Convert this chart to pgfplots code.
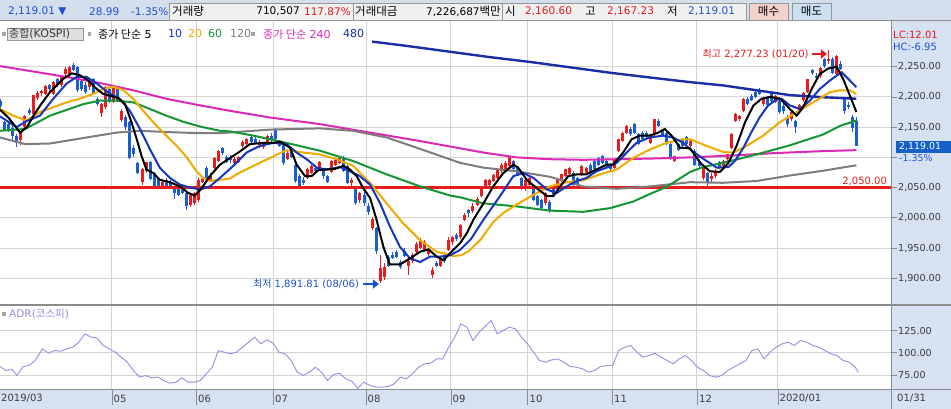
\documentclass[border=0pt]{standalone}
\usepackage{pgfplots}
\pgfplotsset{compat=1.18}
\usepackage{pgfplotstable}
\usetikzlibrary{arrows.meta}
\usepackage{fontspec}
\setmainfont{DejaVu Sans}
\newfontfamily\kr{Noto Sans CJK KR}
\definecolor{tbbg}{RGB}{212,223,238}
\definecolor{panelbg}{RGB}{214,226,241}
\definecolor{boxbg}{RGB}{240,240,240}
\definecolor{boxbd}{RGB}{150,150,150}
\definecolor{txtblue}{RGB}{30,80,210}
\definecolor{txtred}{RGB}{230,25,25}
\definecolor{candred}{RGB}{232,28,28}
\definecolor{candblue}{RGB}{25,95,210}
\definecolor{ma10}{RGB}{20,55,190}
\definecolor{ma20}{RGB}{240,170,0}
\definecolor{ma60}{RGB}{20,150,50}
\definecolor{ma120}{RGB}{125,125,125}
\definecolor{ma240}{RGB}{220,40,180}
\definecolor{ma480}{RGB}{25,45,165}
\definecolor{gridc}{RGB}{212,212,212}
\definecolor{adrc}{RGB}{150,140,230}
\definecolor{axtxt}{RGB}{60,60,60}
\definecolor{buybg}{RGB}{244,210,204}
\definecolor{sellbg}{RGB}{204,224,244}
\definecolor{curblue}{RGB}{21,96,200}
\definecolor{sepc}{RGB}{140,140,140}

% up (red) candles: i O H L C
\pgfplotstableread{
i O H L C
-1 2128 2142 2121 2141
0 2150 2170 2148 2169
2 2172 2204 2170 2203
3 2198 2210 2195 2207
4 2206 2212 2202 2210
5 2205 2220 2203 2218
7 2205 2226 2203 2224
9 2219 2236 2216 2234
10 2238 2249 2235 2247
11 2236 2251 2233 2249
16 2216 2226 2212 2224
19 2174 2190 2166 2188
20 2183 2218 2180 2216
22 2192 2216 2190 2214
24 2162 2180 2158 2177
29 2060 2083 2055 2080
30 2077 2093 2075 2092
34 2052 2062 2048 2060
41 2022 2040 2018 2038
42 2025 2043 2022 2041
43 2030 2066 2027 2063
44 2060 2066 2058 2065
46 2063 2075 2060 2070
47 2083 2101 2080 2099
48 2094 2113 2092 2111
52 2090 2100 2086 2097
53 2092 2102 2090 2100
54 2119 2128 2116 2125
55 2122 2132 2120 2130
58 2120 2128 2115 2126
59 2118 2126 2114 2122
60 2125 2137 2122 2135
65 2098 2110 2095 2108
70 2066 2082 2064 2080
71 2075 2088 2073 2085
73 2081 2094 2078 2092
76 2076 2095 2074 2094
77 2088 2098 2085 2096
78 2091 2101 2089 2099
81 2057 2066 2052 2063
83 2030 2043 2025 2041
86 1983 2001 1980 1998
88 1895 1938 1891.81 1917
89 1903 1926 1898 1918
95 1920 1930 1906 1928
96 1928 1942 1925 1939
97 1944 1960 1940 1957
98 1950 1966 1948 1964
99 1947 1963 1943 1960
100 1940 1950 1937 1948
101 1905 1918 1900 1914
103 1921 1935 1918 1933
105 1947 1968 1945 1963
106 1960 1970 1955 1968
108 1968 1990 1965 1988
109 1997 2008 1995 2005
111 2011 2025 2008 2020
112 2022 2034 2020 2032
113 2036 2050 2034 2047
114 2052 2064 2050 2062
115 2055 2064 2052 2062
116 2061 2073 2059 2071
117 2066 2082 2064 2080
118 2077 2090 2075 2088
119 2080 2094 2078 2091
120 2086 2102 2084 2100
124 2047 2065 2045 2063
125 2055 2067 2052 2066
129 2024 2042 2022 2041
132 2052 2064 2050 2063
133 2061 2073 2059 2072
134 2069 2081 2067 2080
135 2072 2084 2070 2083
138 2072 2087 2070 2086
139 2075 2084 2073 2083
146 2083 2098 2081 2097
147 2111 2131 2109 2130
148 2127 2142 2125 2141
149 2141 2153 2139 2152
155 2124 2139 2122 2138
156 2138 2164 2136 2163
161 2094 2103 2092 2102
165 2119 2128 2117 2127
168 2066 2085 2062 2083
170 2064 2075 2058 2070
171 2070 2080 2066 2077
173 2086 2096 2084 2094
174 2097 2106 2094 2105
175 2116 2140 2114 2138
176 2161 2174 2158 2172
177 2163 2170 2160 2168
178 2177 2198 2175 2196
183 2188 2200 2185 2199
186 2192 2203 2190 2202
190 2163 2176 2160 2175
192 2176 2188 2175 2186
193 2195 2208 2192 2206
194 2208 2230 2206 2229
197 2235 2249 2232 2248
199 2259 2277.23 2255 2263
201 2238 2270 2236 2267
}\upT

% down (blue) candles: i O H L C
\pgfplotstableread{
i O H L C
-6 2194 2196 2182 2185
-5 2158 2160 2143 2145
-4 2156 2158 2142 2146
-3 2149 2154 2128 2135
-2 2135 2138 2118 2124
1 2179 2181 2170 2174
6 2219 2222 2210 2213
8 2229 2231 2217 2219
12 2252 2256 2243 2245
13 2249 2251 2208 2211
14 2227 2230 2210 2213
15 2219 2224 2205 2208
17 2229 2232 2203 2205
18 2197 2200 2185 2188
21 2213 2216 2190 2192
23 2213 2216 2192 2195
25 2166 2170 2146 2150
26 2158 2160 2097 2099
27 2116 2120 2100 2105
28 2091 2093 2072 2074
31 2092 2094 2063 2065
32 2074 2076 2050 2052
33 2066 2068 2050 2052
35 2063 2066 2050 2052
36 2060 2062 2048 2050
37 2049 2052 2031 2041
38 2047 2050 2036 2038
39 2049 2052 2040 2041
40 2041 2043 2013 2019
45 2083 2086 2062 2064
49 2116 2118 2104 2108
50 2100 2104 2090 2092
51 2100 2104 2090 2095
56 2133 2135 2123 2126
57 2130 2133 2122 2124
61 2136 2140 2126 2131
62 2145 2148 2128 2130
63 2124 2128 2118 2119
64 2122 2124 2088 2091
66 2113 2116 2099 2100
67 2088 2090 2058 2061
68 2069 2072 2047 2049
69 2063 2068 2055 2058
72 2083 2088 2075 2077
74 2077 2080 2065 2069
75 2069 2071 2058 2060
79 2097 2103 2076 2078
80 2086 2088 2056 2058
82 2047 2050 2022 2024
84 2038 2042 2020 2024
85 2019 2025 2005 2010
87 1983 1985 1941 1945
90 1935 1938 1918 1921
91 1939 1943 1932 1934
92 1944 1947 1935 1936
93 1927 1930 1915 1919
94 1946 1950 1935 1937
102 1926 1929 1918 1920
104 1939 1943 1925 1928
107 1972 1975 1962 1965
110 2013 2015 2002 2008
121 2094 2096 2078 2080
122 2083 2086 2070 2072
123 2066 2068 2046 2049
126 2047 2049 2028 2030
127 2036 2038 2020 2022
128 2030 2032 2014 2016
130 2027 2029 2008 2013
131 2047 2049 2036 2038
136 2074 2077 2053 2055
137 2066 2068 2053 2055
140 2088 2090 2073 2075
141 2094 2096 2078 2080
142 2099 2101 2086 2088
143 2102 2104 2089 2091
144 2094 2096 2084 2086
145 2088 2090 2078 2080
150 2147 2150 2136 2138
151 2155 2157 2139 2141
152 2138 2140 2120 2122
153 2141 2143 2128 2130
154 2141 2143 2131 2133
157 2161 2164 2150 2152
158 2144 2147 2134 2136
159 2141 2143 2120 2122
160 2122 2124 2095 2097
162 2122 2124 2111 2113
163 2130 2132 2117 2119
164 2133 2135 2120 2122
166 2110 2114 2086 2088
167 2094 2097 2082 2086
169 2074 2076 2052 2060
172 2092 2094 2080 2083
179 2197 2200 2186 2188
180 2202 2205 2193 2195
181 2208 2212 2198 2200
182 2211 2214 2204 2205
184 2199 2202 2184 2186
185 2208 2210 2193 2194
187 2194 2200 2172 2175
188 2185 2190 2172 2176
189 2165 2170 2150 2155
191 2160 2162 2140 2151
195 2244 2246 2236 2239
196 2235 2240 2226 2231
198 2263 2265 2248 2251
200 2263 2266 2238 2240
202 2255 2260 2244 2246
203 2197 2199 2172 2177
204 2187 2192 2180 2183
205 2166 2170 2142 2148
206 2160.60 2167.23 2119.01 2119.01
}\downT

\newcommand\tb{\fontsize{10.5}{12}\selectfont}
\newcommand\tk{\fontsize{11.5}{12}\selectfont\kr}

\pgfplotsset{
  candle/.style 2 args={draw=none, mark=none, forget plot, error bars/.cd, y dir=both, y explicit, error mark=none,
    error bar style={solid, line width=#1, draw=#2}},
}

\begin{document}
\begin{tikzpicture}[x=1pt,y=1pt]
\fill[white] (0,0) rectangle (951,409);
\fill[tbbg] (0,388) rectangle (951,409);
\fill[panelbg] (891,0) rectangle (951,388);
\fill[panelbg] (0,0) rectangle (891,19);

% ---------------- price panel ----------------
\begin{axis}[
  at={(0pt,104pt)}, anchor=south west, scale only axis,
  width=891pt, height=284pt,
  xmin=-6.19, xmax=214.57, ymin=1855.9, ymax=2325.6,
  axis line style={draw=none},
  xtick={21.5,42.5,61.5,84.5,105.5,124.5,145.5,166.5,186.5},
  xticklabel=\empty, xtick style={draw=none},
  ytick={1900,1950,2000,2050,2100,2150,2200,2250},
  yticklabels={{1,900.00},{1,950.00},{2,000.00},{2,050.00},{},{2,150.00},{2,200.00},{2,250.00}},
  ytick pos=right, yticklabel pos=right,
  tick align=outside, major tick length=6pt,
  ytick style={draw=sepc, line width=0.8pt},
  yticklabel style={font=\fontsize{9.6}{10}\selectfont, text=axtxt, inner sep=1pt, anchor=west},
  grid=major, major grid style={gridc, line width=1pt},
]
% wicks
\addplot[candle={1pt}{candred}]
  table[x=i, y=C, y error plus expr=\thisrow{H}-\thisrow{C}, y error minus expr=\thisrow{C}-\thisrow{L}] {\upT};
\addplot[candle={1pt}{candblue}]
  table[x=i, y=C, y error plus expr=\thisrow{H}-\thisrow{C}, y error minus expr=\thisrow{C}-\thisrow{L}] {\downT};
% bodies
\addplot[candle={3pt}{candred}]
  table[x=i, y=C, y error plus expr=0, y error minus expr=\thisrow{C}-\thisrow{O}] {\upT};
\addplot[candle={3pt}{candblue}]
  table[x=i, y=C, y error plus expr=\thisrow{O}-\thisrow{C}, y error minus expr=0] {\downT};

% support line
\addplot[candred, line width=3.5pt, forget plot] coordinates {(-6.19,2050)(214.57,2050)};

% MA480
\addplot[ma480, line width=2.4pt] coordinates {(86,2291.5)(95,2284)(105,2275)(115,2266)(125,2258)(135,2249)(145,2240)(155,2232)(164.8,2224.5)(173,2219)(181.3,2211)(189.5,2203)(197.8,2199.5)(206,2197)};
% MA240
\addplot[ma240, line width=2pt] coordinates {(-6.2,2251)(2.1,2242)(10.3,2233)(18.6,2223)(26.8,2211)(35,2197)(43.4,2186)(50.8,2177)(60.7,2166)(73.1,2155)(85.5,2141)(97.9,2127)(105.3,2118)(113.6,2108)(121.8,2100)(130,2097)(138.3,2096)(146.6,2097)(154.8,2098)(164.8,2100)(175,2103)(185.4,2107)(196,2110)(206,2112)};
% MA120
\addplot[ma120, line width=2pt] coordinates {(-6.2,2133)(0,2122)(6.2,2123)(14.4,2132)(22.7,2141)(28.5,2144)(35,2142)(43.4,2140)(48.3,2140)(60.7,2146)(73.1,2148)(81.3,2144)(89.6,2133)(97.9,2114)(107.8,2091)(113.6,2083)(121.8,2077)(130,2068)(138.3,2052)(146.6,2048)(154.8,2052)(164.8,2059)(173,2058)(181.3,2061)(189.5,2070)(197.8,2078)(206,2087)};
% MA60
\addplot[ma60, line width=2pt] coordinates {(-6.2,2144)(0,2147)(6.2,2169)(14.4,2188)(18.6,2194)(22.7,2194)(26.8,2191)(31,2180)(35,2169)(39.2,2159)(43.4,2151)(48.3,2144)(50.8,2143)(56.6,2136)(64.8,2124)(73.1,2111)(81.3,2094)(89.6,2072)(97.9,2052)(105.3,2037)(107.8,2034)(113.6,2024)(121.8,2019)(130,2012)(138.3,2010)(144.9,2016)(150.7,2027)(155,2040)(158.9,2051)(162,2064)(164.8,2076)(168,2084)(173,2091)(181.3,2105)(189.5,2120)(197.8,2138)(201.9,2152)(206,2161)};
% MA20
\addplot[ma20, line width=2pt] coordinates {(-6.2,2180)(-2.9,2169)(0.4,2161)(3.7,2175)(7,2183)(10.3,2191)(13.6,2197)(16.9,2205)(19.4,2213)(21.9,2217)(24.4,2211)(26.8,2197)(29.3,2177)(31.8,2158)(35,2136)(37.6,2119)(40.1,2100)(42.5,2077)(44.2,2066)(45.8,2061)(48.3,2063)(50.8,2065)(52.4,2072)(56.6,2086)(60.7,2099)(64.8,2112)(69,2108)(73.1,2105)(77.2,2097)(81.3,2086)(85.5,2058)(89.6,2024)(93.7,1991)(97.9,1963)(102,1944)(106.1,1937)(108,1938)(110,1945)(113,1965)(116,1993)(118.5,2008)(121.8,2022)(126,2038)(130,2052)(134.2,2059)(138.3,2062)(142.5,2072)(146.6,2080)(150.7,2099)(154.8,2113)(158.9,2124)(163.1,2130)(164.8,2130)(168.9,2119)(173,2109)(175.5,2108)(178.8,2119)(182.9,2136)(187,2158)(191.2,2175)(195.3,2191)(199.5,2208)(201.9,2211)(204.4,2211)(206,2205)};
% MA10
\addplot[ma10, line width=2pt] coordinates {(-6.2,2168)(-2.1,2150)(0.4,2160)(3.7,2169)(7,2197)(10.3,2222)(12.8,2233)(15.3,2233)(17.8,2222)(21.1,2205)(23.5,2197)(26,2177)(28.5,2147)(31,2113)(33.4,2083)(35.9,2066)(38.4,2055)(40.9,2050)(43.4,2047)(45.8,2052)(48.3,2066)(51.6,2086)(54.9,2108)(58.2,2119)(61.5,2124)(64.8,2122)(67.3,2108)(69.8,2097)(72.3,2083)(74.7,2080)(78.1,2084)(80.5,2077)(83,2069)(85.5,2055)(88,2024)(90.4,1986)(92.9,1952)(95.4,1933)(97.9,1927)(100.4,1936)(102.9,1936)(105.3,1938)(107.8,1947)(110.5,1965)(113.6,1997)(117.7,2036)(121,2069)(123.5,2074)(126,2066)(129.3,2047)(131.7,2041)(134.2,2052)(136.7,2061)(139.1,2066)(141.6,2077)(144.1,2083)(146.6,2091)(149.1,2108)(151.5,2124)(154.8,2133)(158.1,2136)(160.6,2133)(163.1,2124)(165,2112)(168,2098)(171.4,2083)(174.3,2084)(176,2095)(178,2116)(180,2142)(182,2166)(184,2185)(186,2195)(187.5,2197)(189.5,2186)(192,2180)(194.5,2194)(196.9,2213)(199.4,2227)(202.3,2241)(204.4,2227)(206,2216)};
% MA5
\addplot[black, line width=2pt] coordinates {(-6.2,2179)(-4,2165)(-1.2,2141)(0.5,2150)(2.1,2169)(4,2188)(6.2,2208)(8,2220)(9.5,2230)(11.6,2239)(13.6,2236)(15.7,2227)(17.8,2213)(19.4,2205)(21.1,2202)(23.1,2198)(24.8,2188)(26.4,2158)(27.7,2130)(28.9,2102)(30.1,2080)(31.8,2074)(33.4,2063)(35.9,2059)(38.4,2052)(40.5,2041)(42.1,2037)(43.8,2049)(45.8,2069)(48.3,2088)(50.8,2099)(53.3,2110)(55.7,2122)(59,2124)(61.5,2124)(63.2,2126)(65.7,2116)(67.3,2088)(69.4,2069)(71,2069)(72.7,2079)(74.7,2080)(76.8,2081)(78.9,2086)(80.5,2080)(82.2,2069)(83.8,2049)(85.5,2033)(87.1,1997)(88.8,1952)(90.4,1923)(92.9,1923)(95.4,1933)(97.9,1944)(100,1948)(102,1936)(103.7,1930)(106.1,1947)(107.8,1958)(109.5,1975)(111.1,1997)(113.6,2024)(116,2052)(118.5,2074)(121,2088)(122.2,2083)(124.3,2063)(126.8,2049)(129.3,2036)(130.9,2036)(132.6,2052)(134.6,2069)(136.7,2072)(139.1,2072)(141.6,2080)(144.1,2088)(145.7,2088)(148.2,2108)(150.3,2130)(152.3,2136)(154.8,2136)(156.9,2141)(158.5,2147)(160.2,2136)(162.3,2116)(164.8,2115)(167.3,2091)(169.7,2077)(172.2,2076)(174.3,2091)(176.3,2119)(178.4,2158)(180.5,2186)(182.5,2197)(184.6,2200)(187.1,2197)(189.5,2180)(191.2,2169)(192.8,2183)(194.9,2213)(196.9,2238)(199,2247)(201.1,2250)(202.7,2230)(204.4,2202)(206,2175)};

% annotations
\node[anchor=base east, inner sep=0pt, text=txtred, font=\fontsize{10}{12}\selectfont] at (axis cs:213.6,2055) {2,050.00};
\node[anchor=east, inner sep=0pt, text=txtred, font=\fontsize{10}{12}\selectfont] at (axis cs:194.2,2271) {{\kr 최고} 2,277.23 (01/20)};
\draw[txtred, line width=1.3pt, -{Triangle[length=6pt,width=9pt]}] (axis cs:195,2271)--(axis cs:198.7,2271);
\node[anchor=east, inner sep=0pt, text=txtblue, font=\fontsize{10}{12}\selectfont] at (axis cs:82.8,1890.6) {{\kr 최저} 1,891.81 (08/06)};
\draw[txtblue, line width=1.3pt, -{Triangle[length=6pt,width=9pt]}] (axis cs:83.7,1890.6)--(axis cs:87.7,1890.6);
\end{axis}

% ---------------- ADR panel ----------------
\begin{axis}[
  at={(0pt,19pt)}, anchor=south west, scale only axis,
  width=891pt, height=85pt,
  xmin=-6.19, xmax=214.57, ymin=58.1, ymax=154.0,
  axis line style={draw=none},
  xtick={21.5,42.5,61.5,84.5,105.5,124.5,145.5,166.5,186.5},
  xticklabel=\empty, xtick style={draw=none},
  ytick={75,100,125},
  yticklabels={75.00,100.00,125.00},
  ytick pos=right, yticklabel pos=right,
  tick align=outside, major tick length=6pt,
  ytick style={draw=sepc, line width=0.8pt},
  yticklabel style={font=\fontsize{9.6}{10}\selectfont, text=axtxt, inner sep=1pt, anchor=west},
  grid=major, major grid style={gridc, line width=1pt},
]
\addplot[adrc, line width=0.9pt] coordinates {(-6.19,84.6)(-4.69,80.1)(-3.18,81.2)(-1.98,74.4)(-0.48,84.6)(1.02,85.7)(2.53,91.4)(4.33,104.5)(5.83,99.6)(7.33,102.6)(8.84,101.9)(10.34,104.5)(11.84,106.4)(13.34,112.0)(14.85,121.4)(16.35,117.7)(17.85,116.9)(19.35,108.3)(20.86,104.5)(22.36,100.8)(23.86,95.1)(25.36,89.5)(26.87,80.1)(28.37,72.6)(29.87,74.4)(31.38,71.8)(32.88,72.6)(34.38,68.8)(35.88,65.8)(37.39,66.9)(38.89,71.8)(40.39,66.9)(41.89,66.9)(43.40,68.8)(44.90,76.3)(46.40,83.8)(47.90,102.6)(49.41,100.8)(50.91,98.9)(52.41,100.8)(53.91,106.4)(55.42,112.0)(56.92,117.7)(58.42,110.2)(59.92,114.7)(61.43,111.3)(62.93,100.8)(64.43,98.9)(65.93,91.4)(67.44,78.2)(68.94,74.4)(70.44,78.2)(71.95,83.8)(73.45,78.2)(74.95,68.8)(76.45,75.6)(77.96,77.1)(79.46,70.7)(80.96,68.0)(82.46,60.1)(83.97,66.9)(85.47,63.2)(86.97,61.3)(88.47,61.3)(89.98,62.0)(91.48,65.0)(92.98,72.6)(94.48,70.7)(95.99,76.3)(97.49,83.8)(98.99,87.6)(100.49,88.3)(102.0,93.2)(103.5,93.2)(105.0,106.4)(106.5,117.7)(108.0,132.7)(109.5,129.0)(111.0,113.9)(112.5,123.3)(114.0,129.7)(115.5,136.5)(117.0,121.4)(118.5,125.2)(120.0,129.0)(121.5,127.1)(123.0,117.7)(124.5,110.2)(126.0,100.8)(127.5,91.4)(129.0,89.5)(130.5,92.1)(132.0,93.2)(133.5,89.5)(135.1,84.6)(136.6,83.8)(138.1,82.0)(139.6,78.2)(141.1,80.1)(142.6,84.6)(144.1,85.7)(145.6,85.7)(147.1,102.6)(148.6,106.4)(150.1,108.3)(151.6,100.8)(153.1,95.1)(154.6,97.0)(156.1,99.6)(157.6,95.1)(159.1,91.4)(160.6,87.6)(162.1,93.2)(163.6,97.0)(165.1,91.4)(166.6,83.8)(168.1,80.1)(169.6,74.4)(171.1,72.6)(172.6,74.4)(174.1,80.1)(175.6,83.8)(177.1,87.6)(178.6,91.4)(180.1,102.6)(181.6,104.5)(183.1,93.2)(184.6,100.8)(186.1,106.4)(187.6,110.2)(189.1,112.0)(190.6,108.3)(192.1,113.9)(193.7,112.0)(195.2,108.3)(196.7,106.4)(198.2,102.6)(199.7,98.9)(201.2,97.0)(202.7,91.4)(204.2,89.5)(205.7,83.8)(206.5,78.2)};
\end{axis}

% ---------------- frame lines ----------------
\draw[sepc, line width=1pt] (0,388)--(951,388);
\draw[sepc, line width=1.2pt] (0,104)--(951,104);
\draw[sepc, line width=1pt] (0,19)--(951,19);
\draw[sepc, line width=1pt] (891,0)--(891,388);

% ---------------- toolbar ----------------
\draw[boxbd, fill=boxbg] (169,389) rectangle (353,406);
\draw[boxbd, fill=boxbg] (353,389) rectangle (502,406);
\draw[boxbd, fill=boxbg] (502,389) rectangle (746,406);
\draw[boxbd, fill=buybg] (749,389) rectangle (788,406);
\draw[boxbd, fill=sellbg] (792,389) rectangle (831,406);
% legend squares / box
\draw[boxbd, fill=gray!25] (7,369) rectangle (83,381);
\fill[gray!70] (2,373) rectangle (5.5,377);
\fill[gray!70] (87.5,373) rectangle (91,377);
\fill[gray!70] (251,373) rectangle (254.5,377);
\fill[gray!70] (2,93) rectangle (5.5,97);
% current price box
\fill[curblue] (896,256.3) rectangle (951,268.3);

\begin{scope}[every node/.style={inner sep=0pt, anchor=west}]
\node[text=txtblue, font=\tb] at (8,397.5) {2,119.01 ▼};
\node[text=txtblue, font=\tb] at (89,397.5) {28.99};
\node[text=txtblue, font=\tb] at (131,397.5) {-1.35\%};
\node[font=\tk] at (172,397.5) {거래량};
\node[anchor=east, font=\tb] at (300,397.5) {710,507};
\node[anchor=east, text=txtred, font=\tb] at (351,397.5) {117.87\%};
\node[font=\tk] at (355,397.5) {거래대금};
\node[anchor=east, font=\tb] at (501,397.5) {7,226,687{\fontsize{11.5}{12}\selectfont\kr 백만}};
\node[font=\tk] at (505,397.5) {시};
\node[text=txtred, font=\tb] at (525,397.5) {2,160.60};
\node[font=\tk] at (585,397.5) {고};
\node[text=txtred, font=\tb] at (607,397.5) {2,167.23};
\node[font=\tk] at (667,397.5) {저};
\node[text=txtblue, font=\tb] at (688,397.5) {2,119.01};
\node[anchor=center, font=\tk] at (768.5,397.5) {매수};
\node[anchor=center, font=\tk] at (811.5,397.5) {매도};

% legend row
\node[text=axtxt, font=\fontsize{11}{12}\selectfont] at (9,375) {{\kr 종합}(KOSPI)};
\node[font=\fontsize{11}{12}\selectfont] at (98,375) {{\kr 종가 단순} 5};
\node[text=ma10, font=\fontsize{11}{12}\selectfont] at (168,375) {10};
\node[text=ma20, font=\fontsize{11}{12}\selectfont] at (188,375) {20};
\node[text=ma60, font=\fontsize{11}{12}\selectfont] at (208,375) {60};
\node[text=ma120, font=\fontsize{11}{12}\selectfont] at (230,375) {120};
\node[text=ma240, font=\fontsize{11}{12}\selectfont] at (263,375) {{\kr 종가 단순} 240};
\node[text=ma480, font=\fontsize{11}{12}\selectfont] at (343,375) {480};

% ADR label
\node[text=adrc, font=\fontsize{10.5}{12}\selectfont] at (9,95) {ADR({\kr 코스피})};

% right panel texts
\node[text=txtred, font=\fontsize{10}{12}\selectfont] at (893,374.3) {LC:12.01};
\node[text=txtblue, font=\fontsize{10}{12}\selectfont] at (893,362.3) {HC:-6.95};
\node[text=white, font=\fontsize{9.4}{12}\selectfont] at (899,262.3) {2,119.01};
\node[text=txtblue, font=\fontsize{9.4}{12}\selectfont] at (899,251) {-1.35\%};
\node[text=axtxt, font=\fontsize{10}{12}\selectfont] at (897,10.5) {01/31};

% date labels
\node[text=axtxt, font=\fontsize{10}{12}\selectfont] at (1,10.5) {2019/03};
\node[text=axtxt, font=\fontsize{10}{12}\selectfont] at (113.5,10.5) {05};
\node[text=axtxt, font=\fontsize{10}{12}\selectfont] at (198,10.5) {06};
\node[text=axtxt, font=\fontsize{10}{12}\selectfont] at (275,10.5) {07};
\node[text=axtxt, font=\fontsize{10}{12}\selectfont] at (367.5,10.5) {08};
\node[text=axtxt, font=\fontsize{10}{12}\selectfont] at (452.5,10.5) {09};
\node[text=axtxt, font=\fontsize{10}{12}\selectfont] at (529.5,10.5) {10};
\node[text=axtxt, font=\fontsize{10}{12}\selectfont] at (614,10.5) {11};
\node[text=axtxt, font=\fontsize{10}{12}\selectfont] at (699,10.5) {12};
\node[text=axtxt, font=\fontsize{10}{12}\selectfont] at (779.5,10.5) {2020/01};
\end{scope}

% date band ticks
\foreach \xx in {111.8,196.5,273.2,366,450.8,527.5,612.2,697,777.7}
  \draw[sepc] (\xx,4)--(\xx,19);

\pgfresetboundingbox
\path[use as bounding box] (0,0) rectangle (951,409);
\end{tikzpicture}
\end{document}
